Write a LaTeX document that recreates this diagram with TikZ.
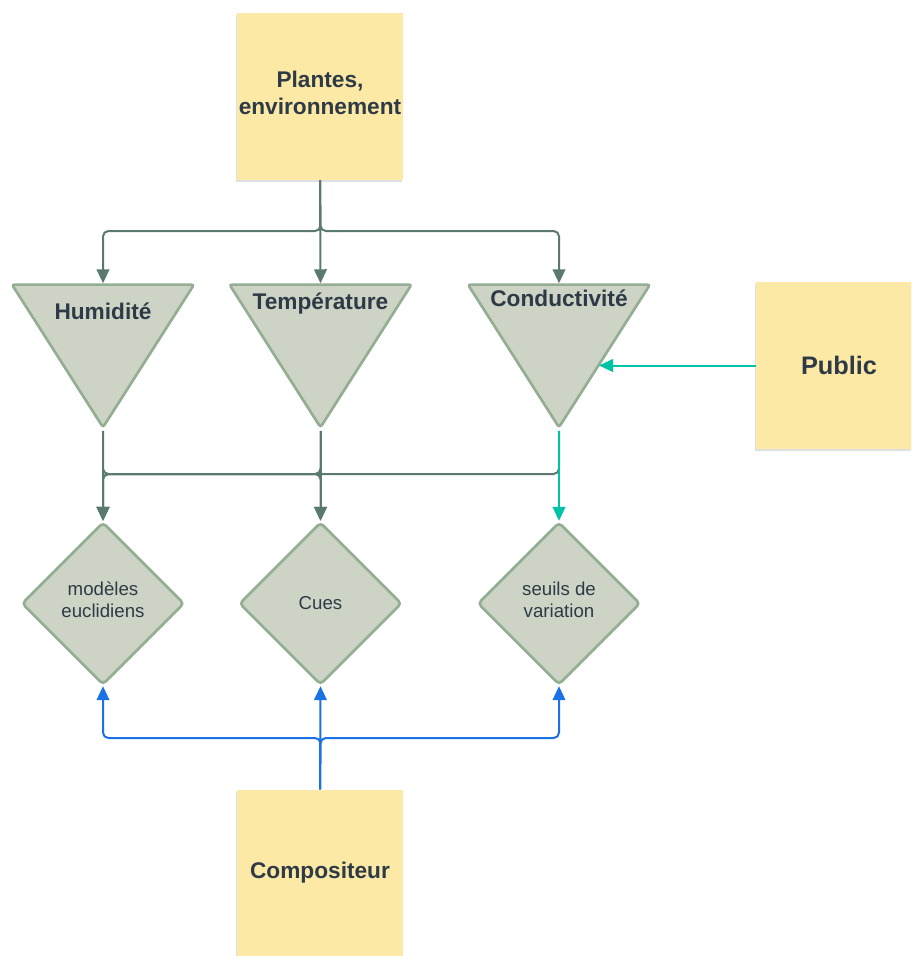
\documentclass[tikz,border=0pt]{standalone}
\usepackage{fontspec}
\setmainfont{Liberation Sans}
\usetikzlibrary{arrows.meta,positioning,shapes.geometric,shadows}
\definecolor{note}{HTML}{FDE9A6}
\definecolor{sage}{HTML}{CDD4C6}
\definecolor{sageline}{HTML}{93AE92}
\definecolor{slate}{HTML}{5A7A70}
\definecolor{ink}{HTML}{2E3A45}
\definecolor{aqua}{HTML}{00C3A6}
\definecolor{azure}{HTML}{1B72E6}
\tikzset{sticky/.style={fill=note,minimum width=124.5pt,minimum height=125pt,inner sep=0pt,align=center,
  font=\fontsize{17}{20.3}\selectfont\bfseries,text=ink,
  drop shadow={shadow xshift=-1pt,shadow yshift=-1.5pt,opacity=0.12,fill=black}},
  tri/.style={isosceles triangle,isosceles triangle stretches,shape border rotate=-90,
  minimum width=136.5pt,minimum height=107pt,inner sep=0pt,draw=sageline,fill=sage,line width=2pt,rounded corners=2pt},
  ttl/.style={font=\fontsize{17}{20}\selectfont\bfseries,text=ink,anchor=center},
  gem/.style={diamond,aspect=1,minimum width=122pt,minimum height=122pt,inner sep=0pt,draw=sageline,fill=sage,
  line width=2pt,rounded corners=3pt,align=center,font=\fontsize{14}{16.5}\selectfont,text=ink},
  flow/.style={-{Triangle[length=10.5pt,width=9.5pt]},line width=1.5pt,draw=slate,rounded corners=4pt}}

\begin{document}
\begin{tikzpicture}[x=0.75pt,y=-0.75pt]
\clip (0,0) rectangle (911,956);
\fill[white] (0,0) rectangle (911,956);
% sources
\node[sticky,text depth=5pt] (plant) at (320,96.5) {Plantes,\\environnement};
\node[sticky,font=\fontsize{19}{22}\selectfont\bfseries] (pub) at (839,365.5) {Public};
\node[sticky] (comp) at (320,873) {Compositeur};
% capteurs
\node[tri,label={[ttl,yshift=-21pt]north:Humidité}] (hum) at (103,334.5) {};
\node[tri,label={[ttl,yshift=-15pt]north:Température}] (temp) at (320.5,334.5) {};
\node[tri,label={[ttl,yshift=-11.5pt]north:Conductivité}] (cond) at (559,334.5) {};
% traitements
\node[gem,text depth=6pt] (mod) at (103,603.5) {modèles\\euclidiens};
\node[gem] (cues) at (320.5,603.5) {Cues};
\node[gem,text depth=6pt] (seu) at (559,603.5) {seuils de\\variation};
% jonctions
\coordinate (split) at (320.5,231);
\coordinate (jh) at (103,474);
\coordinate (jt) at (320.5,474);
\coordinate (jc) at (559,474);
\coordinate (ce) at (599,365.5);
\coordinate (jb) at (320.5,738);
\draw[flow] (plant.south) -- (temp.north);
\draw[flow] (plant.south) -- (split) -| (hum.north);
\draw[flow] (plant.south) -- (split) -| (cond.north);
\draw[flow] (hum.apex) -- (mod.north);
\draw[flow] (temp.apex) -- (cues.north);
\draw[flow] (hum.apex) -- (jh) -| (cues.north);
\draw[flow] (temp.apex) -- (jt) -| (mod.north);
\draw[flow] (cond.apex) -- (jc) -| (mod.north);
\draw[flow,draw=aqua] (cond.apex) -- (seu.north);
\draw[flow,draw=aqua] (pub.west) -- (ce);
\draw[flow,draw=azure] (comp.north) -- (cues.south);
\draw[flow,draw=azure] (comp.north) -- (jb) -| (mod.south);
\draw[flow,draw=azure] (comp.north) -- (jb) -| (seu.south);
\end{tikzpicture}
\end{document}
